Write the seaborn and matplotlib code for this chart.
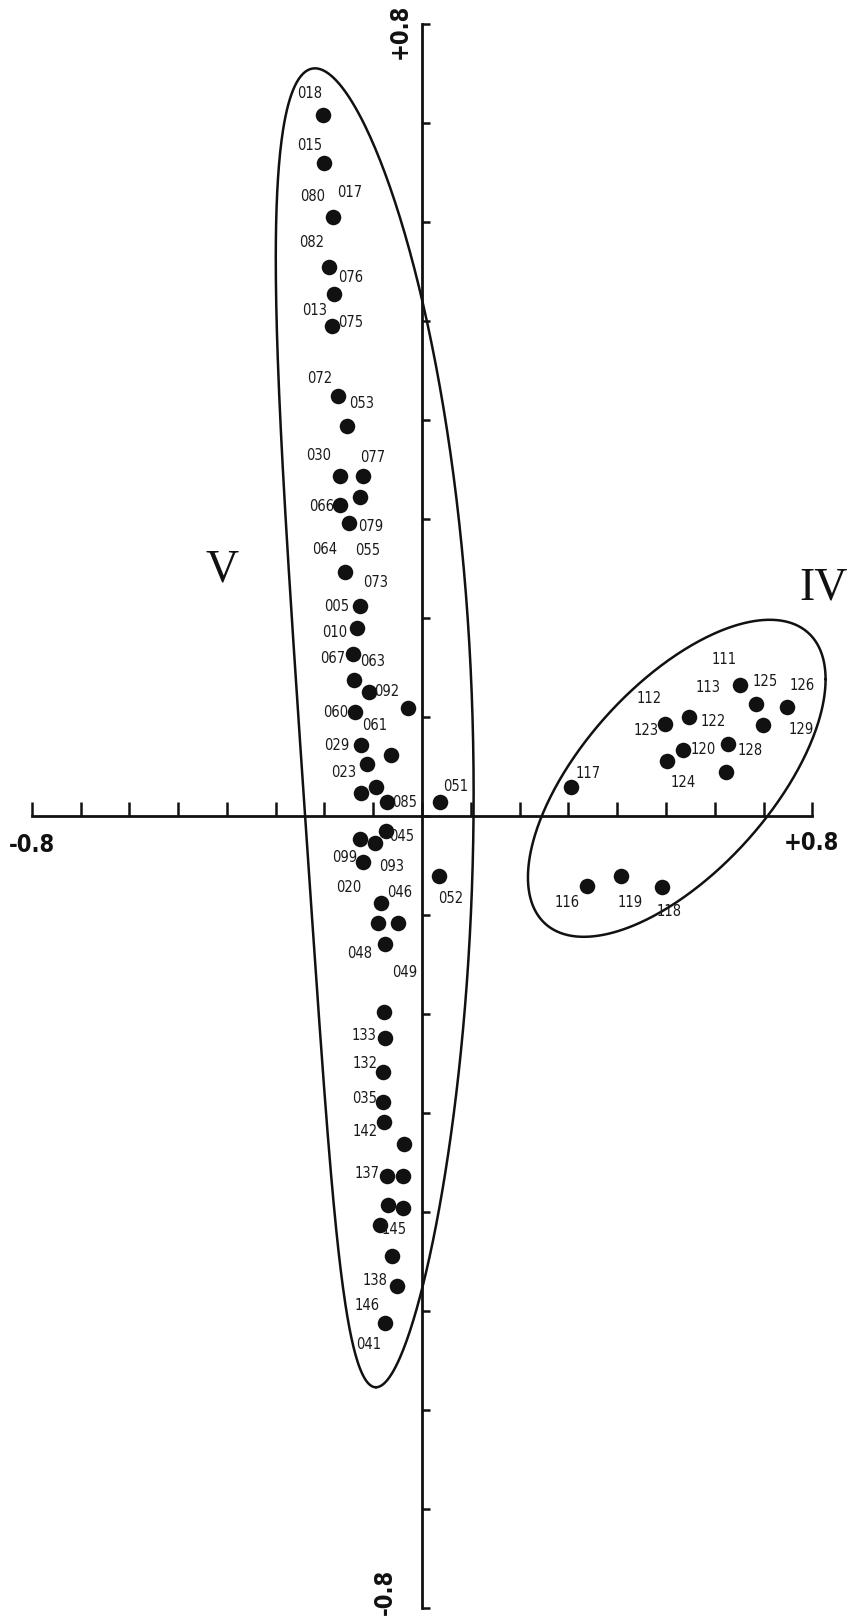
import numpy as np
import pandas as pd
import matplotlib
matplotlib.use("Agg")
import matplotlib.pyplot as plt
import seaborn as sns
from matplotlib import font_manager

# --- Grupo V: coordenadas de los puntos ---
v_x = [-0.204, -0.200, -0.182, -0.191, -0.180, -0.185, -0.172, -0.153, -0.168, -0.122,
       -0.127, -0.169, -0.149, -0.158, -0.127, -0.134, -0.141, -0.139, -0.108, -0.029,
       -0.137, -0.126, -0.064, -0.113, -0.095, -0.126, -0.071, 0.037, -0.074, -0.127,
       -0.096, -0.122, 0.035, -0.085, -0.091, -0.050, -0.076, -0.079, -0.076, -0.081,
       -0.081, -0.077, -0.038, -0.071, -0.040, -0.070, -0.040, -0.086, -0.062, -0.052,
       -0.076]
v_y = [0.708, 0.659, 0.605, 0.554, 0.527, 0.495, 0.424, 0.394, 0.343, 0.343,
       0.322, 0.314, 0.296, 0.246, 0.212, 0.190, 0.164, 0.137, 0.125, 0.109,
       0.105, 0.072, 0.062, 0.052, 0.029, 0.023, 0.014, 0.014, -0.015, -0.023,
       -0.027, -0.047, -0.061, -0.088, -0.108, -0.108, -0.129, -0.198, -0.224, -0.259,
       -0.289, -0.309, -0.331, -0.364, -0.364, -0.393, -0.396, -0.413, -0.444, -0.475,
       -0.512]

# --- Grupo IV ---
iv_x = [0.652, 0.684, 0.747, 0.699, 0.547, 0.498, 0.535, 0.628, 0.503, 0.622,
        0.305, 0.339, 0.407, 0.492]
iv_y = [0.132, 0.113, 0.110, 0.092, 0.100, 0.093, 0.067, 0.073, 0.055, 0.044,
        0.029, -0.071, -0.061, -0.072]

# etiquetas de las muestras (texto, x, y)
v_labels = ["018", "015", "080", "017", "082", "076", "013", "075", "072", "053",
            "030", "077", "066", "079", "064", "055", "073", "005", "010", "067",
            "063", "092", "060", "061", "029", "023", "085", "051", "045", "099",
            "093", "020", "046", "052", "048", "049", "133", "132", "035", "142",
            "137", "145", "138", "146", "041"]
v_label_x = [-0.230, -0.230, -0.224, -0.149, -0.226, -0.146, -0.221, -0.146, -0.209, -0.124,
             -0.212, -0.101, -0.205, -0.105, -0.199, -0.112, -0.096, -0.175, -0.180, -0.183,
             -0.102, -0.072, -0.178, -0.098, -0.174, -0.161, -0.035, 0.068, -0.042, -0.158,
             -0.062, -0.151, -0.046, 0.059, -0.127, -0.035, -0.120, -0.117, -0.117, -0.117,
             -0.113, -0.057, -0.096, -0.113, -0.110]
v_label_y = [0.730, 0.677, 0.626, 0.630, 0.579, 0.544, 0.510, 0.498, 0.442, 0.417,
             0.364, 0.362, 0.312, 0.292, 0.269, 0.268, 0.236, 0.211, 0.185, 0.159,
             0.156, 0.126, 0.104, 0.091, 0.071, 0.044, 0.014, 0.030, -0.021, -0.042,
             -0.051, -0.072, -0.077, -0.083, -0.139, -0.158, -0.222, -0.250, -0.285, -0.319,
             -0.361, -0.418, -0.469, -0.494, -0.534]

iv_labels = ["111", "113", "125", "126", "112", "122", "123", "129", "120", "128",
             "124", "117", "116", "119", "118"]
iv_label_x = [0.619, 0.587, 0.703, 0.780, 0.466, 0.597, 0.460, 0.778, 0.576, 0.672,
              0.536, 0.341, 0.298, 0.426, 0.506]
iv_label_y = [0.158, 0.130, 0.136, 0.132, 0.119, 0.095, 0.086, 0.087, 0.067, 0.066,
              0.034, 0.043, -0.087, -0.087, -0.097]

# contornos de los grupos: centro, semidiametros conjugados, curvatura y afinado
contorno_v = {"centro": (-0.074, 0.089), "a": (0.0625, -0.666), "b": (0.178, 0.0),
              "curva": -0.083, "afinado": -0.16}
contorno_iv = {"centro": (0.522, 0.038), "a": (0.305, 0.100), "b": (0.0, 0.125),
               "curva": 0.0, "afinado": 0.0}

grupos = ["V", "IV"]
grupo_pos = [(-0.41, 0.248), (0.822, 0.230)]

fuentes = {f.name for f in font_manager.fontManager.ttflist}
estrecha = "Liberation Sans Narrow" if "Liberation Sans Narrow" in fuentes else "DejaVu Sans"

sns.set_style("white")

df = pd.DataFrame({
    "x": v_x + iv_x,
    "y": v_y + iv_y,
    "grupo": ["V"] * len(v_x) + ["IV"] * len(iv_x),
})

fig = plt.figure(figsize=(8.49, 16.18), dpi=100)
ax = fig.add_axes([0, 0, 1, 1])

sns.scatterplot(data=df, x="x", y="y", color="#111111", s=125, linewidth=0,
                legend=False, ax=ax, zorder=3)

# contornos (elipses dibujadas a mano)
t = np.linspace(0, 2 * np.pi, 500)
for e in (contorno_v, contorno_iv):
    cx, cy = e["centro"]
    ancho = 1 + e["afinado"] * np.cos(t)
    ex = cx + e["a"][0] * np.cos(t) + e["b"][0] * np.sin(t) * ancho + e["curva"] * np.cos(t) ** 2
    ey = cy + e["a"][1] * np.cos(t) + e["b"][1] * np.sin(t) * ancho
    ax.plot(ex, ey, color="#111111", lw=1.8)

# etiquetas
for txt, lx, ly in zip(v_labels + iv_labels, v_label_x + iv_label_x, v_label_y + iv_label_y):
    ax.text(lx, ly, txt, ha="center", va="center", fontsize=10.5,
            family=estrecha, stretch="condensed", color="#1a1a1a")

for g, (gx, gy) in zip(grupos, grupo_pos):
    ax.text(gx, gy, g, ha="center", va="center", fontsize=33,
            family="Liberation Serif", color="#111111")

# ejes en cruz
ax.set_xlim(-0.865, 0.875)
ax.set_ylim(-0.810, 0.824)
for lado in ("top", "right"):
    ax.spines[lado].set_visible(False)
ax.spines["left"].set_position(("data", 0))
ax.spines["bottom"].set_position(("data", 0))
ax.spines["left"].set_bounds(-0.8, 0.8)
ax.spines["bottom"].set_bounds(-0.8, 0.8)
for lado in ("left", "bottom"):
    ax.spines[lado].set_linewidth(2.0)
    ax.spines[lado].set_color("#111111")

ticks = np.round(np.arange(-0.8, 0.81, 0.1), 1)
ax.set_xticks(ticks)
ax.set_yticks(ticks)
ax.set_xticklabels([])
ax.set_yticklabels([])
ax.tick_params(axis="x", direction="in", length=10, width=1.8, color="#111111", bottom=True)
ax.tick_params(axis="y", direction="in", length=6, width=1.8, color="#111111", left=True)
ax.set_xlabel("")
ax.set_ylabel("")

# rotulos de los extremos
kw = dict(fontsize=17, fontweight="bold", family=estrecha, stretch="condensed",
          color="#111111", ha="center", va="center")
ax.text(-0.80, -0.029, "-0.8", **kw)
ax.text(0.797, -0.027, "+0.8", **kw)
ax.text(-0.045, 0.792, "+0.8", rotation=90, **kw)
ax.text(-0.076, -0.784, "-0.8", rotation=90, **kw)

fig.savefig("out.png", dpi=100, facecolor="white")
